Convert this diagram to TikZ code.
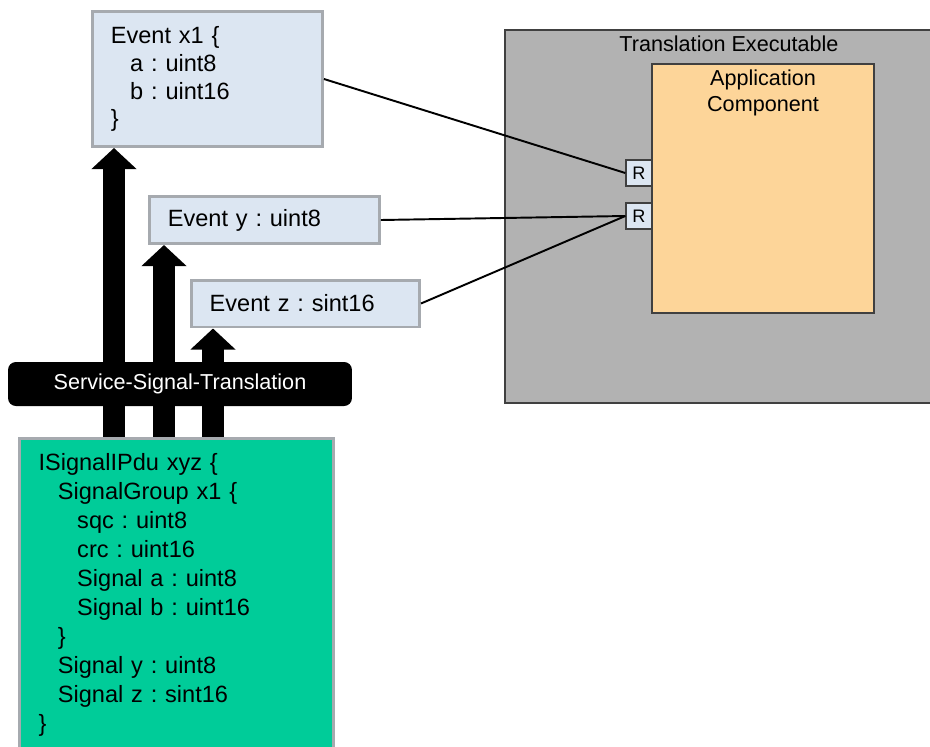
\documentclass[tikz,border=0pt]{standalone}
\usepackage{fontspec}
\setmainfont{Liberation Sans}
\frenchspacing
\definecolor{evblue}{RGB}{220,230,242}
\definecolor{boxgray}{RGB}{166,170,175}
\definecolor{pdugreen}{RGB}{0,204,153}
\definecolor{exegray}{RGB}{178,178,178}
\definecolor{apporange}{RGB}{253,213,153}
\definecolor{edgedark}{RGB}{64,64,64}
\usetikzlibrary{arrows.meta,positioning}

\newcommand{\sigind}{\hspace*{11pt}}

\begin{document}
\begin{tikzpicture}[
  x=0.02cm, y=-0.02cm,
  every node/.style={font=\fontsize{13.4}{15.9}\selectfont\frenchspacing},
  evbox/.style={draw=boxgray,line width=1.7pt,fill=evblue,align=left,
                inner xsep=10pt,inner ysep=0pt},
  pdubox/.style={draw=boxgray,line width=1.7pt,fill=pdugreen,align=left,
                 inner xsep=10.5pt,inner ysep=0pt,text width=157pt,
                 minimum width=6.28cm,minimum height=6.26cm,
                 font=\fontsize{13.4}{16.5}\selectfont\frenchspacing},
  sstbar/.style={fill=black,text=white,rounded corners=4.5pt,
                 minimum width=6.88cm,minimum height=0.88cm,
                 font=\fontsize{12.3}{14}\selectfont},
  exebox/.style={draw=edgedark,line width=0.8pt,fill=exegray},
  appbox/.style={draw=edgedark,line width=0.8pt,fill=apporange},
  lbl/.style={inner sep=0pt,align=center,font=\fontsize{12.3}{14.8}\selectfont},
  port/.style={draw=edgedark,line width=0.8pt,fill=evblue,inner sep=0pt,
               minimum size=0.52cm,font=\fontsize{10.3}{12}\selectfont},
  link/.style={line width=1.1pt,black},
  bigarrow/.style={line width=12.5pt,black,-{Triangle[width=25pt,length=12pt]}},
]
  \useasboundingbox (0,0) rectangle (930,747);

  % Translation executable
  \node[exebox,minimum width=8.96cm,minimum height=7.46cm] (exe) at (729,216.5) {};
  \node[lbl,below=3.4pt of exe.north] (exelbl) {Translation Executable};

  % Application component with ports
  \node[appbox,minimum width=4.44cm,minimum height=4.98cm] (app) at (763,188.5) {};
  \node[lbl,below=3.4pt of app.north] (applbl) {Application\\Component};
  \node[port] (r1) at (639,173) {R};
  \node[port] (r2) at (639,216) {R};

  % Events
  \node[evbox,text width=110pt,minimum width=4.6cm,minimum height=2.7cm] (x1) at (207.5,79)
    {Event x1 \{\\\sigind a : uint8\\\sigind b : uint16\\\}};
  \node[evbox,text width=110pt,minimum width=4.6cm,minimum height=0.94cm] (ev) at (264.5,220)
    {Event y : uint8};
  \node[evbox,text width=109pt,minimum width=4.56cm,minimum height=0.94cm] (ez) at (305.5,303.5)
    {Event z : sint16};

  % PDU
  \node[pdubox] (pdu) at (176.5,594.5)
    {ISignalIPdu xyz \{\\
     \sigind SignalGroup x1 \{\\
     \sigind\sigind sqc : uint8\\
     \sigind\sigind crc : uint16\\
     \sigind\sigind Signal a : uint8\\
     \sigind\sigind Signal b : uint16\\
     \sigind \}\\
     \sigind Signal y : uint8\\
     \sigind Signal z : sint16\\
     \}};

  % Translation arrows
  \coordinate (colx1) at (114,0);
  \coordinate (coly) at (164,0);
  \coordinate (colz) at (213,0);
  \draw[bigarrow] (pdu.north -| colx1) -- (x1.south -| colx1);
  \draw[bigarrow] (pdu.north -| coly) -- (ev.south -| coly);
  \draw[bigarrow] (pdu.north -| colz) -- (ez.south -| colz);

  \node[sstbar] (sst) at (180,384) {Service-Signal-Translation};

  % Links to ports
  \draw[link] (x1.east) -- (r1.west);
  \draw[link] (ev.east) -- (r2.west);
  \draw[link] (ez.east) -- (r2.west);
\end{tikzpicture}
\end{document}
